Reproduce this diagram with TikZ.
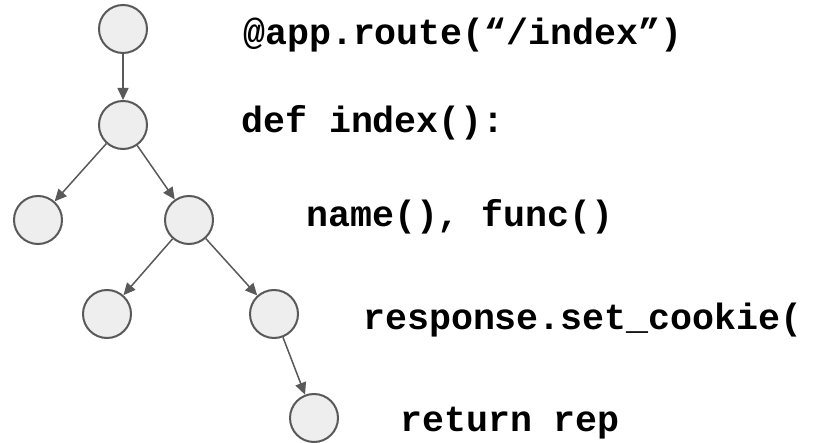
\documentclass[tikz,border=0pt]{standalone}
\usepackage{fontspec}
\setmonofont{Liberation Mono}
\usetikzlibrary{arrows.meta}
\definecolor{nodefill}{HTML}{EEEEEE}
\definecolor{edgegray}{HTML}{595959}
\begin{document}
\begin{tikzpicture}[x=1pt,y=-1pt,
  treenode/.style={circle,draw=edgegray,fill=nodefill,line width=2pt,minimum size=48pt,inner sep=0pt},
  edge/.style={draw=edgegray,line width=1.5pt,-{Triangle[length=12pt,width=11pt]}},
  code/.style={anchor=base west,inner sep=0pt,font=\ttfamily\bfseries\fontsize{36.6}{40}\selectfont}]
\useasboundingbox (0,0) rectangle (824,443);
\node[treenode] (n1) at (123,29) {};
\node[treenode] (n2) at (123,125) {};
\node[treenode] (n3) at (38,220) {};
\node[treenode] (n4) at (189,220) {};
\node[treenode] (n5) at (107,314) {};
\node[treenode] (n6) at (274,314) {};
\node[treenode] (n7) at (314,418) {};
\draw[edge] (n1) -- (n2);
\draw[edge] (n2) -- (n3);
\draw[edge] (n2) -- (n4);
\draw[edge] (n4) -- (n5);
\draw[edge] (n4) -- (n6);
\draw[edge] (n6) -- (n7);
\node[code] (t1) at (243,45) {@app.route(“/index”)};
\node[code] (t2) at (241,133) {def index():};
\node[code] (t3) at (306,227) {name(), func()};
\node[code] (t4) at (363,330) {response.set\_cookie(};
\node[code] (t5) at (400,431) {return rep};
\end{tikzpicture}
\end{document}
